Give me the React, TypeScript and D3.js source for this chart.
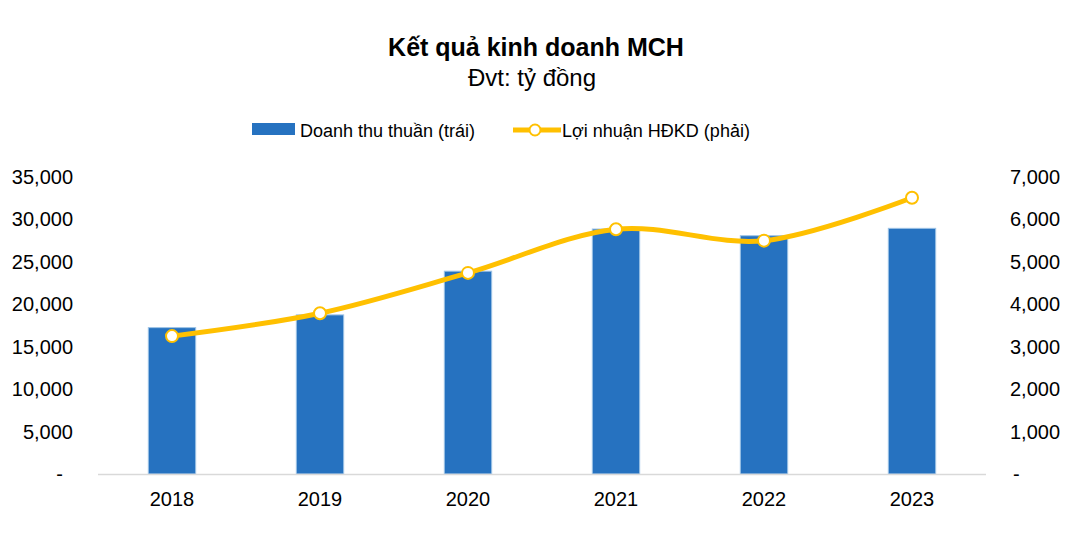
import React from "react";
import * as d3 from "d3";

const years = ["2018", "2019", "2020", "2021", "2022", "2023"];
const revenue = [17250, 18750, 23900, 28870, 28080, 28950];
const profit = [3250, 3790, 4740, 5770, 5500, 6510];
const leftTicks = [0, 5000, 10000, 15000, 20000, 25000, 30000, 35000];
const rightTicks = [0, 1000, 2000, 3000, 4000, 5000, 6000, 7000];

const W = 1073;
const H = 536;
const FONT = "'Liberation Sans', Arial, sans-serif";

export default function App() {
  const x = d3.scaleBand<string>().domain(years).range([98, 986]).paddingInner(0.68).paddingOuter(0.34);
  const yL = d3.scaleLinear().domain([0, 35000]).range([474, 177]);
  const yR = d3.scaleLinear().domain([0, 7000]).range([474, 177]);
  const fmt = d3.format(",");
  const cx = (y: string) => (x(y) as number) + x.bandwidth() / 2;
  const line = d3
    .line<number>()
    .x((_, i) => cx(years[i]))
    .y((d) => yR(d))
    .curve(d3.curveCatmullRom.alpha(0.5));

  return (
    <svg
      width={W}
      height={H}
      style={{ position: "absolute", left: 0, top: 0, background: "#fff" }}
      fontFamily={FONT}
    >
      <rect x={0} y={0} width={W} height={H} fill="#fff" />
      <text x={536} y={56} textAnchor="middle" fontSize={25} fontWeight="bold" fill="#000">
        Kết quả kinh doanh MCH
      </text>
      <text x={532} y={86} textAnchor="middle" fontSize={24} fill="#000">
        Đvt: tỷ đồng
      </text>

      {/* Legend */}
      <rect x={252} y={123} width={43} height={12} fill="#2672C0" />
      <text x={300} y={137} fontSize={18} fill="#000">
        Doanh thu thuần (trái)
      </text>
      <line x1={513} x2={561} y1={130} y2={130} stroke="#FFC000" strokeWidth={5} />
      <circle cx={535} cy={130} r={5.5} fill="#fff" stroke="#FFC000" strokeWidth={2} />
      <text x={562} y={137} fontSize={18} fill="#000">
        Lợi nhuận HĐKD (phải)
      </text>

      {/* Left axis labels */}
      {leftTicks.map((t) => (
        <text
          key={"l" + t}
          x={t === 0 ? 63 : 73}
          y={yL(t) + 7}
          textAnchor="end"
          fontSize={20}
          fill="#000"
        >
          {t === 0 ? "-" : fmt(t)}
        </text>
      ))}
      {/* Right axis labels */}
      {rightTicks.map((t) => (
        <text
          key={"r" + t}
          x={t === 0 ? 1013 : 1010}
          y={yR(t) + 7}
          textAnchor="start"
          fontSize={20}
          fill="#000"
        >
          {t === 0 ? "-" : fmt(t)}
        </text>
      ))}

      {/* Bars */}
      {years.map((yr, i) => (
        <rect
          key={yr}
          x={x(yr)}
          y={yL(revenue[i])}
          width={x.bandwidth()}
          height={yL(0) - yL(revenue[i])}
          fill="#2672C0"
          stroke="#9DC3E6"
          strokeWidth={1}
        />
      ))}

      {/* Axis line */}
      <line x1={98} x2={986} y1={474.5} y2={474.5} stroke="#D9D9D9" strokeWidth={1.5} />

      {/* X labels */}
      {years.map((yr) => (
        <text key={"x" + yr} x={cx(yr)} y={506} textAnchor="middle" fontSize={20} fill="#000">
          {yr}
        </text>
      ))}

      {/* Line */}
      <path d={line(profit) || ""} fill="none" stroke="#FFC000" strokeWidth={5} strokeLinecap="round" />
      {profit.map((p, i) => (
        <circle key={"c" + i} cx={cx(years[i])} cy={yR(p)} r={6} fill="#fff" stroke="#FFC000" strokeWidth={2} />
      ))}
    </svg>
  );
}
